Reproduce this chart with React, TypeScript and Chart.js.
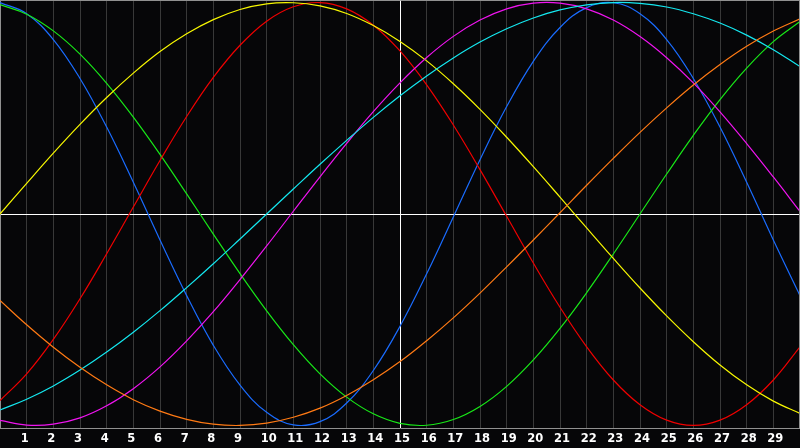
import { useEffect, useRef } from 'react'
import { Chart, registerables } from 'chart.js'
import type { Plugin } from 'chart.js'

Chart.register(...registerables)

// day index along the bottom axis (0 = left edge, 30 = right edge)
const days = [0, 1, 2, 3, 4, 5, 6, 7, 8, 9, 10, 11, 12, 13, 14, 15, 16, 17, 18, 19, 20, 21, 22, 23, 24, 25, 26, 27, 28, 29, 30]

// cycle values, -1 .. 1
const physical = [1.0, 0.947, 0.825, 0.641, 0.411, 0.15, -0.123, -0.386, -0.621, -0.809, -0.938, -0.997, -0.982, -0.894, -0.74, -0.531, -0.283, -0.014, 0.257, 0.508, 0.722, 0.882, 0.976, 0.999, 0.947, 0.825, 0.641, 0.411, 0.15, -0.123, -0.386]
const emotional = [-0.882, -0.756, -0.593, -0.401, -0.188, 0.033, 0.253, 0.461, 0.646, 0.798, 0.912, 0.98, 1.0, 0.97, 0.893, 0.771, 0.611, 0.421, 0.21, -0.011, -0.232, -0.441, -0.628, -0.785, -0.902, -0.975, -1.0, -0.975, -0.902, -0.785, -0.628]
const intellectual = [0.99, 0.945, 0.866, 0.756, 0.618, 0.458, 0.282, 0.095, -0.095, -0.282, -0.458, -0.618, -0.756, -0.866, -0.945, -0.99, -0.999, -0.972, -0.91, -0.815, -0.69, -0.541, -0.372, -0.189, 0.0, 0.189, 0.372, 0.541, 0.69, 0.815, 0.91]
const intuitive = [-0.976, -0.998, -0.994, -0.964, -0.907, -0.826, -0.723, -0.6, -0.462, -0.31, -0.151, 0.013, 0.176, 0.334, 0.484, 0.62, 0.74, 0.84, 0.917, 0.97, 0.997, 0.997, 0.97, 0.917, 0.839, 0.739, 0.62, 0.483, 0.333, 0.175, 0.012]
const aesthetic = [0.0, 0.145, 0.288, 0.424, 0.551, 0.666, 0.768, 0.852, 0.919, 0.967, 0.994, 0.999, 0.984, 0.948, 0.891, 0.816, 0.724, 0.616, 0.495, 0.363, 0.224, 0.08, -0.066, -0.21, -0.35, -0.482, -0.604, -0.714, -0.808, -0.885, -0.943]
const awareness = [-0.409, -0.524, -0.63, -0.725, -0.808, -0.878, -0.932, -0.971, -0.994, -1.0, -0.989, -0.961, -0.918, -0.858, -0.784, -0.698, -0.599, -0.491, -0.374, -0.25, -0.123, 0.006, 0.136, 0.263, 0.386, 0.502, 0.61, 0.707, 0.793, 0.865, 0.923]
const spiritual = [-0.927, -0.876, -0.813, -0.738, -0.653, -0.559, -0.457, -0.348, -0.235, -0.118, 0.0, 0.118, 0.235, 0.348, 0.457, 0.559, 0.653, 0.738, 0.813, 0.876, 0.927, 0.965, 0.989, 1.0, 0.996, 0.979, 0.947, 0.903, 0.846, 0.777, 0.697]

const series: [string, number[], string][] = [
  ['Awareness', awareness, '#ff7a14'],
  ['Spiritual', spiritual, '#14e8f0'],
  ['Intuitive', intuitive, '#f014f0'],
  ['Aesthetic', aesthetic, '#f8f800'],
  ['Emotional', emotional, '#f00000'],
  ['Intellectual', intellectual, '#18e818'],
  ['Physical', physical, '#1a6cff'],
]

const BG = '#060608'
const GRID = '#383838'
const FRAME = '#909090'
const Y_EDGE = 1.012

// right-hand edge of the frame (the last grid line would fall off the canvas)
const frameRight: Plugin<'line'> = {
  id: 'frameRight',
  afterDraw(chart) {
    const { ctx, chartArea: a } = chart
    ctx.save()
    ctx.strokeStyle = FRAME
    ctx.lineWidth = 1
    ctx.beginPath()
    ctx.moveTo(a.right - 0.5, a.top)
    ctx.lineTo(a.right - 0.5, a.bottom)
    ctx.stroke()
    ctx.restore()
  },
}

export default function App() {
  const canvasRef = useRef<HTMLCanvasElement>(null)

  useEffect(() => {
    document.body.style.margin = '0'
    if (!canvasRef.current) return
    const chart = new Chart(canvasRef.current, {
      type: 'line',
      data: {
        datasets: series.map(([label, vals, color]) => ({
          label,
          data: days.map((d, i) => ({ x: d, y: vals[i] })),
          borderColor: color,
          borderWidth: 1.2,
          pointRadius: 0,
          pointHoverRadius: 0,
          tension: 0.4,
          fill: false,
        })),
      },
      options: {
        animation: false,
        responsive: false,
        events: [],
        layout: { padding: 0, autoPadding: false },
        plugins: { legend: { display: false }, tooltip: { enabled: false } },
        scales: {
          x: {
            type: 'linear',
            min: 0,
            max: 30,
            afterFit: (s) => {
              s.height = 20
              s.paddingLeft = 0
              s.paddingRight = 0
            },
            ticks: {
              stepSize: 1,
              autoSkip: false,
              maxRotation: 0,
              align: 'start',
              labelOffset: -6,
              padding: 4,
              color: '#ffffff',
              font: { family: 'DejaVu Sans', size: 11.5, weight: 'bold' },
              callback: (v) => (Number(v) >= 1 && Number(v) <= 29 ? String(v) : ''),
            },
            grid: {
              drawTicks: false,
              color: (c) => {
                const v = c.tick?.value
                if (v === 15) return '#ffffff'
                if (v === 0 || v === 30) return 'transparent'
                return GRID
              },
            },
            border: { color: FRAME },
          },
          y: {
            min: -Y_EDGE,
            max: Y_EDGE,
            afterBuildTicks: (s) => {
              s.ticks = [{ value: -Y_EDGE }, { value: 0 }, { value: Y_EDGE }]
            },
            ticks: { display: false },
            grid: {
              drawTicks: false,
              color: (c) => {
                const v = c.tick?.value
                if (v === 0) return '#ffffff'
                if (v === Y_EDGE) return FRAME
                return 'transparent'
              },
            },
            border: { color: FRAME },
          },
        },
      },
      plugins: [frameRight],
    })
    return () => chart.destroy()
  }, [])

  return (
    <div style={{ width: 800, height: 448, background: BG }}>
      <canvas ref={canvasRef} width={800} height={448} />
    </div>
  )
}
